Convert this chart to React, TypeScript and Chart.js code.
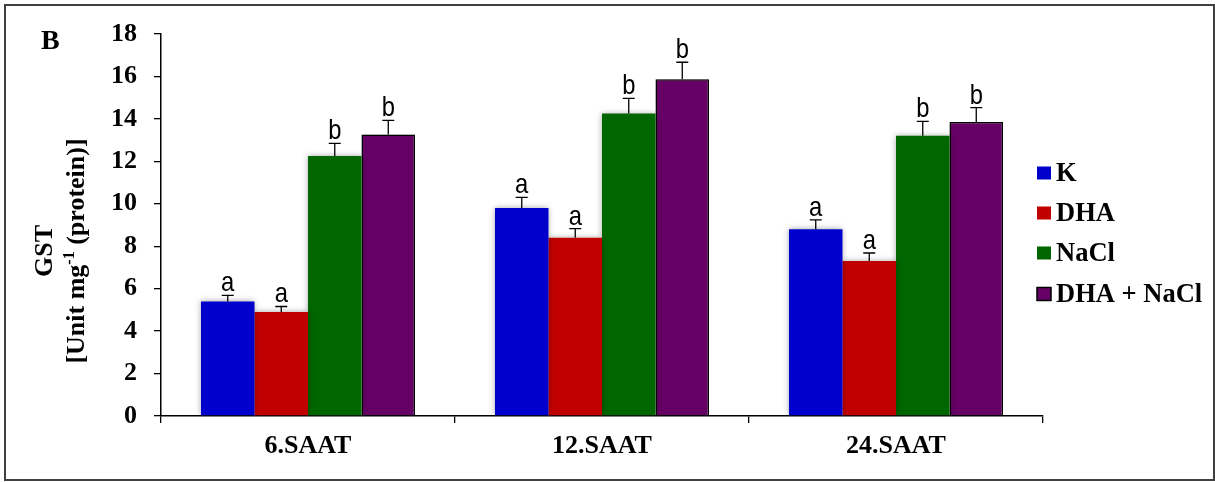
import React, { useEffect, useRef } from "react";
import { Chart, registerables } from "chart.js";

Chart.register(...registerables);

const categories = ["6.SAAT", "12.SAAT", "24.SAAT"];
const seriesNames = ["K", "DHA", "NaCl", "DHA + NaCl"];
const seriesColors = ["#0000CC", "#C00000", "#006600", "#660066"];

const kValues = [5.4, 9.8, 8.8];
const dhaValues = [4.9, 8.4, 7.3];
const naclValues = [12.25, 14.25, 13.2];
const dhaNaclValues = [13.27, 15.87, 13.85];

const kErrors = [0.28, 0.5, 0.44];
const dhaErrors = [0.26, 0.43, 0.38];
const naclErrors = [0.6, 0.72, 0.68];
const dhaNaclErrors = [0.66, 0.8, 0.68];

const kLetters = ["a", "a", "a"];
const dhaLetters = ["a", "a", "a"];
const naclLetters = ["b", "b", "b"];
const dhaNaclLetters = ["b", "b", "b"];

const yMin = 0;
const yMax = 18;
const yStep = 2;

const panelLabel = "B";
const yTitleLine1 = "GST";
const yTitlePre = "[Unit mg";
const yTitleSup = "-1";
const yTitlePost = " (protein)]";

const allValues = [kValues, dhaValues, naclValues, dhaNaclValues];
const allErrors = [kErrors, dhaErrors, naclErrors, dhaNaclErrors];
const allLetters = [kLetters, dhaLetters, naclLetters, dhaNaclLetters];

const SERIF = "'Liberation Serif', 'Times New Roman', serif";
const SANS = "'Liberation Sans', Arial, sans-serif";

const decorPlugin = {
  id: "decor",
  beforeDatasetsDraw(chart: any) {
    const ctx = chart.ctx;
    ctx.save();
    ctx.shadowColor = "rgba(0,0,0,0.35)";
    ctx.shadowBlur = 6;
    ctx.shadowOffsetX = 0;
    ctx.shadowOffsetY = 0;
  },
  afterDatasetsDraw(chart: any) {
    const ctx = chart.ctx;
    ctx.restore();
    const yScale = chart.scales.y;
    chart.data.datasets.forEach((ds: any, i: number) => {
      const meta = chart.getDatasetMeta(i);
      meta.data.forEach((el: any, j: number) => {
        const v = ds.data[j];
        const e = allErrors[i][j];
        const x = el.x;
        const yTop = yScale.getPixelForValue(v);
        const yErr = yScale.getPixelForValue(v + e);
        ctx.save();
        ctx.strokeStyle = "#000";
        ctx.lineWidth = 1.3;
        ctx.beginPath();
        ctx.moveTo(x, yTop);
        ctx.lineTo(x, yErr);
        ctx.moveTo(x - 6, yErr);
        ctx.lineTo(x + 6, yErr);
        ctx.stroke();
        ctx.translate(x, yErr - 4);
        ctx.scale(0.85, 1);
        ctx.fillStyle = "#000";
        ctx.font = `28px ${SANS}`;
        ctx.textAlign = "center";
        ctx.textBaseline = "alphabetic";
        ctx.fillText(allLetters[i][j], 0, 0);
        ctx.restore();
      });
    });
  },
  afterDraw(chart: any) {
    const ctx = chart.ctx;
    ctx.save();
    // outer frame
    ctx.strokeStyle = "#404040";
    ctx.lineWidth = 2;
    ctx.strokeRect(5, 5, 1209, 475);

    // panel label
    ctx.fillStyle = "#000";
    ctx.font = `bold 28px ${SERIF}`;
    ctx.textAlign = "left";
    ctx.textBaseline = "alphabetic";
    ctx.fillText(panelLabel, 41, 49);

    // legend
    const centers = [173, 213, 253, 294];
    chart.data.datasets.forEach((ds: any, i: number) => {
      const cy = centers[i];
      ctx.fillStyle = ds.backgroundColor;
      ctx.fillRect(1037, cy - 6.5, 14, 13);
      if (ds.borderWidth > 0) {
        ctx.strokeStyle = "#000";
        ctx.lineWidth = 1.5;
        ctx.strokeRect(1037, cy - 6.5, 14, 13);
      }
      ctx.fillStyle = "#000";
      ctx.font = `bold 26.5px ${SERIF}`;
      ctx.textAlign = "left";
      ctx.textBaseline = "middle";
      ctx.fillText(ds.label, 1056, cy + 1);
    });

    // y axis title
    const cy = 251;
    ctx.fillStyle = "#000";
    ctx.textBaseline = "alphabetic";
    ctx.save();
    ctx.translate(52, cy);
    ctx.rotate(-Math.PI / 2);
    ctx.font = `bold 26px ${SERIF}`;
    ctx.textAlign = "center";
    ctx.fillText(yTitleLine1, 0, 0);
    ctx.restore();

    ctx.save();
    ctx.translate(84, cy);
    ctx.rotate(-Math.PI / 2);
    ctx.textAlign = "left";
    const mainFont = `bold 26px ${SERIF}`;
    const supFont = `bold 16px ${SERIF}`;
    ctx.font = mainFont;
    const w1 = ctx.measureText(yTitlePre).width;
    const w3 = ctx.measureText(yTitlePost).width;
    ctx.font = supFont;
    const w2 = ctx.measureText(yTitleSup).width;
    let x = -(w1 + w2 + w3) / 2;
    ctx.font = mainFont;
    ctx.fillText(yTitlePre, x, 0);
    x += w1;
    ctx.font = supFont;
    ctx.fillText(yTitleSup, x, -10);
    x += w2;
    ctx.font = mainFont;
    ctx.fillText(yTitlePost, x, 0);
    ctx.restore();

    ctx.restore();
  },
};

export default function App() {
  const canvasRef = useRef<HTMLCanvasElement | null>(null);

  useEffect(() => {
    if (!canvasRef.current) return;
    const chart = new Chart(canvasRef.current, {
      type: "bar",
      data: {
        labels: categories,
        datasets: seriesNames.map((name, i) => ({
          label: name,
          data: allValues[i],
          backgroundColor: seriesColors[i],
          borderColor: "#000",
          borderWidth: i === 3 ? 1.5 : 0,
          borderSkipped: i === 3 ? "bottom" : false,
          barPercentage: 1,
          categoryPercentage: 0.728,
        })),
      },
      options: {
        animation: false,
        responsive: true,
        maintainAspectRatio: false,
        layout: { padding: { left: 0, top: 34, right: 172, bottom: 0 } },
        plugins: {
          legend: { display: false },
          tooltip: { enabled: false },
          title: { display: false },
        },
        scales: {
          x: {
            type: "category",
            offset: true,
            grid: {
              display: true,
              drawOnChartArea: false,
              drawTicks: true,
              tickLength: 7,
              color: "#000",
              lineWidth: 1.3,
              offset: true,
            },
            border: { display: true, color: "#000", width: 1.5 },
            ticks: {
              color: "#000",
              font: { family: SERIF, weight: "bold", size: 26 },
              padding: 8,
              maxRotation: 0,
            },
            afterFit: (s: any) => {
              s.height = 66;
            },
          },
          y: {
            min: yMin,
            max: yMax,
            grid: {
              display: true,
              drawOnChartArea: false,
              drawTicks: true,
              tickLength: 7,
              color: "#000",
              lineWidth: 1.3,
            },
            border: { display: true, color: "#000", width: 1.5 },
            ticks: {
              stepSize: yStep,
              color: "#000",
              font: { family: SERIF, weight: "bold", size: 26 },
              padding: 17,
            },
            afterFit: (s: any) => {
              s.width = 161;
            },
          },
        },
      },
      plugins: [decorPlugin],
    } as any);
    return () => chart.destroy();
  }, []);

  return (
    <div style={{ position: "absolute", left: 0, top: 0, width: 1215, height: 482, background: "#fff" }}>
      <canvas ref={canvasRef} />
    </div>
  );
}
